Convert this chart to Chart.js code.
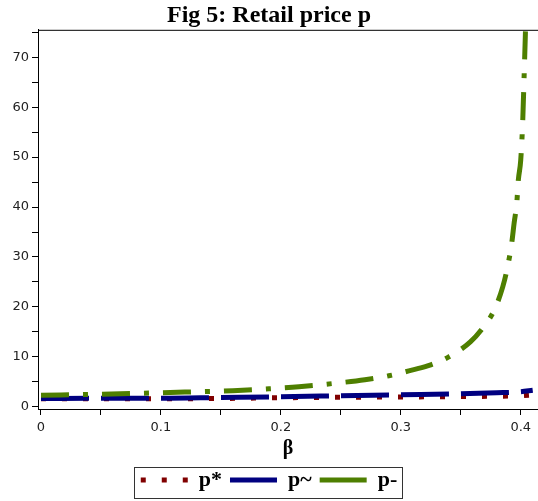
<!DOCTYPE html>
<html>
<head>
<meta charset="utf-8">
<script src="https://cdn.jsdelivr.net/npm/chart.js@4/dist/chart.umd.min.js"></script>
<style>
  html, body { margin: 0; padding: 0; background: #ffffff; }
  #c { display: block; }
</style>
</head>
<body>
<canvas id="c" width="538" height="501"></canvas>
<script>
// p* (optimal retail price) against beta
const betaStar = [0, 0.05, 0.1, 0.15, 0.2, 0.25, 0.3, 0.35, 0.4, 0.41];
const pStar    = [1.6, 1.6, 1.6, 1.65, 1.8, 1.9, 1.95, 2.05, 2.2, 2.35];

// p~ retail price
const betaTilde = [0, 0.05, 0.1, 0.15, 0.2, 0.25, 0.3, 0.35, 0.38, 0.4, 0.41];
const pTilde    = [1.65, 1.7, 1.7, 1.85, 2.0, 2.2, 2.4, 2.6, 2.8, 3.0, 3.3];

// p- retail price (blows up near beta = 0.405)
const betaMinus = [0, 0.05, 0.1, 0.13, 0.16, 0.19, 0.215, 0.245, 0.27, 0.29, 0.31, 0.325, 0.34,
                   0.358, 0.369, 0.378, 0.385, 0.389, 0.3925, 0.3945, 0.3967, 0.398, 0.4,
                   0.4017, 0.4028, 0.4038, 0.4045];
const pMinus    = [2.3, 2.5, 2.8, 3.0, 3.2, 3.6, 4.0, 4.7, 5.4, 6.2, 7.4, 8.4, 10.0,
                   13.0, 16.0, 19.4, 24, 28, 32.8, 36.8, 40.8, 45.4, 49.4,
                   57.4, 66, 74, 80];

// axis ticks
const xTicks = [0, 0.05, 0.1, 0.15, 0.2, 0.25, 0.3, 0.35, 0.4];
const xLabels = ['0', '', '0.1', '', '0.2', '', '0.3', '', '0.4'];
const yTicks = [0, 5, 10, 15, 20, 25, 30, 35, 40, 45, 50, 55, 60, 65, 70, 75];
const yLabels = ['0', '', '10', '', '20', '', '30', '', '40', '', '50', '', '60', '', '70', ''];

const seriesNames = ['p*', 'p~', 'p-'];
const seriesColors = ['#800000', '#000080', '#4e7f00'];

const toPoints = (xs, ys) => xs.map((x, i) => ({ x: x, y: ys[i] }));

const serif = "'Liberation Serif', 'Times New Roman', serif";
const sans = "'DejaVu Sans', Verdana, sans-serif";

// frame line along the top and a box around the legend
const framePlugin = {
  id: 'frame',
  afterDraw(chart) {
    const ctx = chart.ctx;
    const a = chart.chartArea;
    ctx.save();
    ctx.strokeStyle = '#000';
    ctx.lineWidth = 1;
    ctx.setLineDash([]);
    ctx.beginPath();
    ctx.moveTo(a.left, a.top + 0.5);
    ctx.lineTo(a.right, a.top + 0.5);
    ctx.stroke();
    const boxes = chart.legend && chart.legend.legendHitBoxes;
    if (boxes && boxes.length) {
      let l = Infinity, r = -Infinity, t = Infinity, b = -Infinity;
      boxes.forEach(h => {
        l = Math.min(l, h.left); r = Math.max(r, h.left + h.width);
        t = Math.min(t, h.top); b = Math.max(b, h.top + h.height);
      });
      ctx.strokeStyle = '#333';
      ctx.strokeRect(Math.round(l - 7) + 0.5, Math.round(t - 2) + 0.5,
                     Math.round(r - l + 12), Math.round(b - t + 9));
    }
    ctx.restore();
  }
};

new Chart(document.getElementById('c'), {
  type: 'line',
  data: {
    datasets: [
      {
        label: seriesNames[0],
        data: toPoints(betaStar, pStar),
        borderColor: seriesColors[0],
        borderWidth: 5,
        borderDash: [5, 16],
        borderCapStyle: 'butt',
        pointRadius: 0,
        cubicInterpolationMode: 'monotone',
        order: 2
      },
      {
        label: seriesNames[1],
        data: toPoints(betaTilde, pTilde),
        borderColor: seriesColors[1],
        borderWidth: 5,
        borderDash: [48, 12],
        borderCapStyle: 'butt',
        pointRadius: 0,
        cubicInterpolationMode: 'monotone',
        order: 1
      },
      {
        label: seriesNames[2],
        data: toPoints(betaMinus, pMinus),
        borderColor: seriesColors[2],
        borderWidth: 5,
        borderDash: [28, 14, 5, 14],
        borderCapStyle: 'butt',
        pointRadius: 0,
        cubicInterpolationMode: 'monotone',
        order: 0
      }
    ]
  },
  options: {
    responsive: false,
    animation: false,
    events: [],
    layout: { padding: { left: 0, right: 0, top: 0, bottom: 0 } },
    plugins: {
      tooltip: { enabled: false },
      title: {
        display: true,
        text: 'Fig 5: Retail price p',
        color: '#000',
        font: { family: serif, size: 24, weight: 'bold', lineHeight: 1.2 },
        padding: { top: 1, bottom: 0 }
      },
      legend: {
        display: true,
        position: 'bottom',
        labels: {
          color: '#000',
          font: { family: serif, size: 22, weight: 'bold' },
          usePointStyle: true,
          pointStyleWidth: 47,
          boxHeight: 5,
          padding: 8,
          generateLabels(chart) {
            return chart.data.datasets.map((ds, i) => ({
              text: ds.label,
              strokeStyle: ds.borderColor,
              fillStyle: ds.borderColor,
              fontColor: '#000',
              lineWidth: 5,
              lineDash: i === 0 ? [5, 16] : [],
              lineCap: 'butt',
              pointStyle: 'line',
              hidden: false,
              datasetIndex: i
            }));
          }
        }
      }
    },
    scales: {
      x: {
        type: 'linear',
        min: -0.0025,
        max: 0.4144,
        afterBuildTicks(scale) { scale.ticks = xTicks.map(v => ({ value: v })); },
        afterFit(scale) { scale.height = 52; },
        ticks: {
          color: '#222',
          font: { family: sans, size: 13 },
          padding: 5,
          maxRotation: 0,
          autoSkip: false,
          callback(value, index) { return xLabels[index]; }
        },
        grid: { drawOnChartArea: false, drawTicks: true, tickLength: 6, color: '#000' },
        border: { display: true, color: '#000', width: 1 },
        title: {
          display: true,
          text: 'β',
          color: '#000',
          font: { family: serif, size: 20, weight: 'bold' },
          padding: { top: 2, bottom: 0 }
        }
      },
      y: {
        type: 'linear',
        min: -0.45,
        max: 75.5,
        afterBuildTicks(scale) { scale.ticks = yTicks.map(v => ({ value: v })); },
        afterFit(scale) { scale.width = 38; },
        ticks: {
          color: '#222',
          font: { family: sans, size: 13 },
          padding: 3,
          autoSkip: false,
          callback(value, index) { return yLabels[index]; }
        },
        grid: { drawOnChartArea: false, drawTicks: true, tickLength: 6, color: '#000' },
        border: { display: true, color: '#000', width: 1 }
      }
    }
  },
  plugins: [framePlugin]
});
</script>
</body>
</html>
